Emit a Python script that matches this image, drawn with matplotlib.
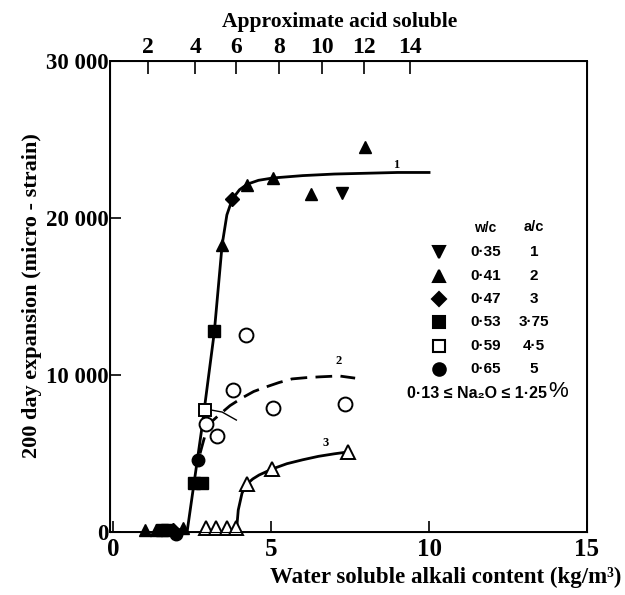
import matplotlib
matplotlib.use("Agg")
import matplotlib.pyplot as plt
import numpy as np

# ---------------- data ----------------
# filled markers (legend series)
inv_tri_x = [7.24]
inv_tri_y = [21600]
tri_x = [1.0, 1.35, 2.2, 3.45, 4.24, 5.06, 6.27, 7.97]
tri_y = [150, 150, 250, 18300, 22100, 22550, 21500, 24500]
dia_x = [1.9, 3.77]
dia_y = [150, 21200]
sq_x = [1.55, 1.7, 2.56, 2.82, 3.2]
sq_y = [150, 150, 3100, 3150, 12800]
osq_x = [2.91]
osq_y = [7800]
circ_x = [2.0, 2.69]
circ_y = [-150, 4600]
# open circles (curve 2 group) and open triangles (curve 3 group)
ocirc_x = [2.94, 3.29, 3.8, 4.2, 5.06, 7.34]
ocirc_y = [6900, 6100, 9050, 12550, 7900, 8150]
otri_x = [2.94, 3.26, 3.61, 3.89, 4.24, 5.03, 7.44]
otri_y = [250, 250, 250, 250, 3060, 4000, 5100]

# fitted curves
curve1_x = [2.34, 2.8, 3.2, 3.45, 3.6, 3.77, 4.0, 4.24, 4.6, 5.06, 6.0, 7.0, 8.0, 9.0, 10.0]
curve1_y = [0, 6500, 12700, 18300, 20200, 21200, 21800, 22150, 22400, 22550, 22700, 22800, 22850, 22900, 22900]
curve2_x = [2.75, 2.9, 3.1, 3.35, 3.7, 4.08, 4.45, 4.84, 5.25, 5.66, 6.1, 6.52, 7.15, 7.66]
curve2_y = [5000, 6100, 7000, 7450, 8050, 8540, 8950, 9240, 9520, 9750, 9830, 9880, 9940, 9800]
curve3_x = [3.9, 3.93, 3.96, 4.08, 4.24, 4.42, 4.62, 5.03, 5.5, 6.0, 6.5, 7.0, 7.44]
curve3_y = [0, 700, 1400, 2480, 3060, 3380, 3630, 4010, 4350, 4600, 4820, 4980, 5100]
stroke_x = [3.1, 3.45, 3.9]
stroke_y = [7770, 7640, 7130]

curve_labels = ["1", "2", "3"]
curve_label_x = [8.96, 7.15, 6.74]
curve_label_y = [23400, 10900, 5700]

x_ticks = [0, 5, 10, 15]
y_ticks = [0, 10000, 20000, 30000]
y_tick_labels = ["0", "10 000", "20 000", "30 000"]
acid_pos = [1.1, 2.6, 3.9, 5.25, 6.6, 7.95, 9.4]
acid_labels = ["2", "4", "6", "8", "10", "12", "14"]

legend_wc = ["0·35", "0·41", "0·47", "0·53", "0·59", "0·65"]
legend_ac = ["1", "2", "3", "3·75", "4·5", "5"]

# ---------------- figure ----------------
serif = ["Liberation Serif", "DejaVu Serif"]
sans = ["Liberation Sans", "DejaVu Sans"]

fig = plt.figure(figsize=(6.25, 5.95), dpi=100)
ax = fig.add_axes([110/625, 1-532/595, 477/625, 471/595])
ax.set_xlim(-0.1, 15)
ax.set_ylim(0, 30000)

for s in ax.spines.values():
    s.set_linewidth(1.4)

ax.set_xticks(x_ticks)
ax.set_xticklabels([str(t) for t in x_ticks], fontfamily=serif, fontweight="bold", fontsize=18)
ax.set_yticks(y_ticks)
ax.set_yticklabels(y_tick_labels, fontfamily=serif, fontweight="bold", fontsize=16.5)
ax.tick_params(axis="both", direction="in", length=8, width=1.2)
ax.tick_params(axis="x", pad=4)
ax.tick_params(axis="y", pad=1)

top = ax.twiny()
top.set_xlim(ax.get_xlim())
top.set_xticks(acid_pos)
top.set_xticklabels(acid_labels, fontfamily=serif, fontweight="bold", fontsize=17)
top.tick_params(axis="x", direction="in", length=9, width=1.2, pad=2)
fig.text(340/625, 1-22/595, "Approximate acid soluble", fontfamily=serif, fontweight="bold",
         fontsize=15.5, ha="center", va="center")

# curves
ax.plot(curve1_x, curve1_y, color="black", lw=2.0, zorder=2, clip_on=False)
ax.plot(curve2_x, curve2_y, color="black", lw=2.0, ls=(0, (6, 3)), zorder=2)
ax.plot(curve3_x, curve3_y, color="black", lw=2.0, zorder=2, clip_on=False)
ax.plot(stroke_x, stroke_y, color="black", lw=1.0, zorder=2)

ms = 9
kw = dict(ls="none", color="black", zorder=3, clip_on=False)
ax.plot(inv_tri_x, inv_tri_y, marker="v", ms=ms, **kw)
ax.plot(tri_x, tri_y, marker="^", ms=ms, **kw)
ax.plot(dia_x, dia_y, marker="D", ms=7, **kw)
ax.plot(sq_x, sq_y, marker="s", ms=ms, **kw)
ax.plot(circ_x, circ_y, marker="o", ms=ms, **kw)
okw = dict(ls="none", mfc="white", mec="black", mew=1.4, zorder=3, clip_on=False)
ax.plot(osq_x, osq_y, marker="s", ms=9, **okw)
ax.plot(ocirc_x, ocirc_y, marker="o", ms=10, **okw)
ax.plot(otri_x, otri_y, marker="^", ms=10, **okw)

for lab, lx, ly in zip(curve_labels, curve_label_x, curve_label_y):
    ax.text(lx, ly, lab, fontfamily=serif, fontweight="bold", fontsize=9, ha="center", va="center")

# legend (manual)
mx, cx1, cx2 = 0.689, 0.787, 0.889
y0, dy = 0.594, 0.0497
ax.text(cx1, 0.645, "w/c", transform=ax.transAxes, fontfamily=sans, fontweight="bold",
        fontsize=10, ha="center", va="center")
ax.text(cx2, 0.648, "a/c", transform=ax.transAxes, fontfamily=sans, fontweight="bold",
        fontsize=10.5, ha="center", va="center")
leg_markers = ["v", "^", "D", "s", "s", "o"]
leg_fill = ["black", "black", "black", "black", "white", "black"]
for i, (m, f, wc, ac) in enumerate(zip(leg_markers, leg_fill, legend_wc, legend_ac)):
    yy = y0 - i * dy
    ax.plot([mx], [yy], transform=ax.transAxes, marker=m, ms=(7 if m == "D" else 9),
            mfc=f, mec="black", mew=1.5, ls="none")
    ax.text(cx1, yy, wc, transform=ax.transAxes, fontfamily=sans, fontweight="bold",
            fontsize=11, ha="center", va="center")
    ax.text(cx2, yy, ac, transform=ax.transAxes, fontfamily=sans, fontweight="bold",
            fontsize=11, ha="center", va="center")
foot = ax.text(0.622, 0.295, "0·13 ≤ Na₂O ≤ 1·25", transform=ax.transAxes, fontfamily=sans,
               fontweight="bold", fontsize=11.5, ha="left", va="center")
ax.annotate("%", xy=(1, 0.5), xycoords=foot, xytext=(1, 1), textcoords="offset points",
            fontfamily=sans, fontsize=16, ha="left", va="center")

fig.text(32/625, 1-296/595, "200 day expansion (micro - strain)", rotation=90,
         fontfamily=serif, fontweight="bold", fontsize=16, ha="center", va="center")
fig.text(621/625, 1-577/595, "Water soluble alkali content (kg/m³)",
         fontfamily=serif, fontweight="bold", fontsize=16.5, ha="right", va="center")

fig.savefig("out.png", dpi=100)
